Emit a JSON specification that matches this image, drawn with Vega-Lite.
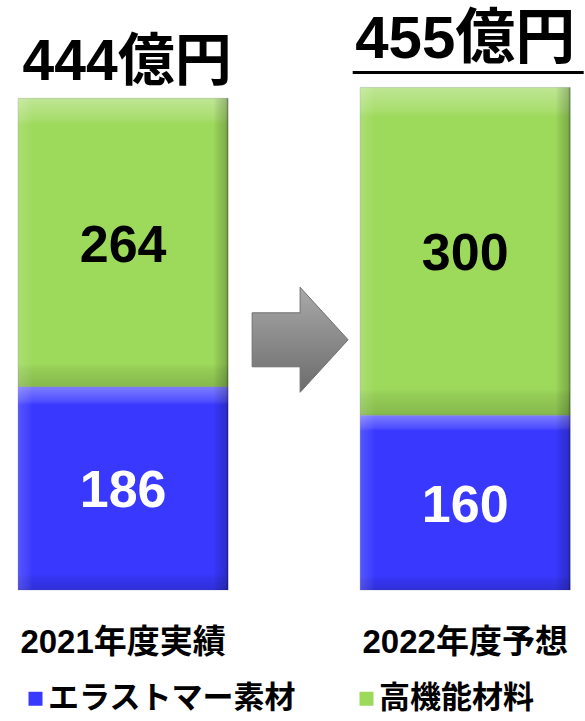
{
  "$schema": "https://vega.github.io/schema/vega-lite/v6.json",
  "width": 585,
  "height": 590,
  "autosize": {"type": "none"},
  "padding": {"left": 0, "top": 0, "right": 0, "bottom": 131},
  "background": "white",
  "config": {"view": {"stroke": null}, "font": "Liberation Sans, Noto Sans CJK JP"},
  "datasets": {
    "bars": [
      {"year": "2021年度実績", "series": "エラストマー素材", "value": 186},
      {"year": "2021年度実績", "series": "高機能材料", "value": 264},
      {"year": "2022年度予想", "series": "エラストマー素材", "value": 160},
      {"year": "2022年度予想", "series": "高機能材料", "value": 300}
    ],
    "totals": [
      {"year": "2021年度実績", "total": 450, "label": "444億円"},
      {"year": "2022年度予想", "total": 460, "label": "455億円"}
    ],
    "arrow": [{"year": "2021年度実績", "level": 229}]
  },
  "encoding": {
    "x": {
      "field": "year",
      "type": "nominal",
      "scale": {"domain": ["2021年度実績", "2022年度予想"], "paddingInner": 0.386, "paddingOuter": 0.048, "align": 0.55},
      "axis": {
        "title": null, "domain": false, "ticks": false, "labelAngle": 0,
        "labelFontSize": 33, "labelFontWeight": "bold", "labelColor": "black",
        "labelPadding": 36, "labelLimit": 400, "labelFont": "Liberation Sans, Noto Sans CJK JP"
      }
    }
  },
  "layer": [
    {
      "data": {"name": "bars"},
      "mark": {"type": "bar", "stroke": "#3b3b6e", "strokeWidth": 0.5, "strokeOpacity": 0.4},
      "encoding": {
        "y": {"field": "value", "type": "quantitative", "stack": "zero", "scale": {"domain": [0, 540]}, "axis": null},
        "order": {"field": "series", "sort": "ascending"},
        "color": {
          "field": "series", "type": "nominal",
          "scale": {"domain": ["エラストマー素材", "高機能材料"], "range": ["#3838ff", "#9dd95b"]},
          "legend": {
            "orient": "none", "legendX": 20, "legendY": 683, "direction": "horizontal",
            "title": null, "symbolType": "square", "symbolSize": 196, "symbolStrokeWidth": 0,
            "labelFontSize": 31, "labelFontWeight": "bold", "labelColor": "black",
            "labelFont": "Noto Sans CJK JP", "labelOffset": -3, "columnPadding": 55, "padding": 0, "labelLimit": 400
          }
        }
      }
    },
    {
      "data": {"name": "bars"},
      "mark": {
        "type": "bar",
        "fill": {"gradient": "linear", "x1": 0, "y1": 0, "x2": 0, "y2": 1, "stops": [
          {"offset": 0, "color": "rgba(255,255,255,0.35)"},
          {"offset": 0.07, "color": "rgba(255,255,255,0.12)"},
          {"offset": 0.09, "color": "rgba(255,255,255,0)"},
          {"offset": 0.92, "color": "rgba(0,0,0,0)"},
          {"offset": 0.94, "color": "rgba(0,0,0,0.06)"},
          {"offset": 1, "color": "rgba(0,0,0,0.15)"}
        ]}
      },
      "encoding": {
        "y": {"field": "value", "type": "quantitative", "stack": "zero", "scale": {"domain": [0, 540]}, "axis": null},
        "order": {"field": "series", "sort": "ascending"},
        "detail": {"field": "series"}
      }
    },
    {
      "data": {"name": "bars"},
      "mark": {
        "type": "bar",
        "fill": {"gradient": "linear", "x1": 0, "y1": 0, "x2": 1, "y2": 0, "stops": [
          {"offset": 0, "color": "rgba(255,255,255,0.15)"},
          {"offset": 0.05, "color": "rgba(255,255,255,0.05)"},
          {"offset": 0.07, "color": "rgba(255,255,255,0)"},
          {"offset": 0.93, "color": "rgba(0,0,0,0)"},
          {"offset": 0.95, "color": "rgba(0,0,0,0.08)"},
          {"offset": 0.99, "color": "rgba(0,0,0,0.2)"},
          {"offset": 1, "color": "rgba(0,0,0,0.45)"}
        ]}
      },
      "encoding": {
        "y": {"field": "value", "type": "quantitative", "stack": "zero", "scale": {"domain": [0, 540]}, "axis": null},
        "order": {"field": "series", "sort": "ascending"},
        "detail": {"field": "series"}
      }
    },
    {
      "data": {"name": "bars"},
      "mark": {"type": "text", "fontSize": 52, "fontWeight": "bold", "baseline": "middle", "font": "Liberation Sans", "dy": 3},
      "encoding": {
        "y": {"field": "value", "type": "quantitative", "stack": "zero", "bandPosition": 0.5, "scale": {"domain": [0, 540]}, "axis": null},
        "order": {"field": "series", "sort": "ascending"},
        "detail": {"field": "series"},
        "text": {"field": "value", "type": "quantitative"},
        "color": {"condition": {"test": "datum.series === 'エラストマー素材'", "value": "white"}, "value": "black"}
      }
    },
    {
      "data": {"name": "totals"},
      "transform": [{"filter": "datum.year === '2021年度実績'"}],
      "mark": {"type": "text", "fontSize": 57, "fontWeight": "bold", "baseline": "alphabetic", "dy": -18, "dx": 4, "color": "black"},
      "encoding": {
        "y": {"field": "total", "type": "quantitative", "scale": {"domain": [0, 540]}, "axis": null},
        "text": {"field": "label"}
      }
    },
    {
      "data": {"name": "totals"},
      "transform": [{"filter": "datum.year === '2022年度予想'"}],
      "mark": {"type": "text", "fontSize": 60, "fontWeight": "bold", "baseline": "alphabetic", "dy": -29, "color": "black"},
      "encoding": {
        "y": {"field": "total", "type": "quantitative", "scale": {"domain": [0, 540]}, "axis": null},
        "text": {"field": "label"}
      }
    },
    {
      "data": {"name": "totals"},
      "transform": [{"filter": "datum.year === '2022年度予想'"}],
      "mark": {"type": "tick", "orient": "horizontal", "size": 231, "thickness": 3, "color": "black", "yOffset": -15, "xOffset": 3, "opacity": 1},
      "encoding": {
        "y": {"field": "total", "type": "quantitative", "scale": {"domain": [0, 540]}, "axis": null}
      }
    },
    {
      "data": {"name": "arrow"},
      "mark": {
        "type": "point", "filled": true, "opacity": 1, "size": 11025, "xOffset": 72,
        "shape": "M-0.914,-0.514 L0,-0.514 L0,-1 L0.914,0 L0,1 L0,0.514 L-0.914,0.514 Z",
        "fill": {"gradient": "linear", "x1": 0, "y1": 0, "x2": 0, "y2": 1, "stops": [
          {"offset": 0, "color": "#a9a9a9"},
          {"offset": 0.5, "color": "#8a8a8a"},
          {"offset": 1, "color": "#6c6c6c"}
        ]},
        "stroke": "#707070", "strokeWidth": 1
      },
      "encoding": {
        "x": {"field": "year", "type": "nominal", "bandPosition": 1},
        "y": {"field": "level", "type": "quantitative", "scale": {"domain": [0, 540]}, "axis": null}
      }
    }
  ]
}
